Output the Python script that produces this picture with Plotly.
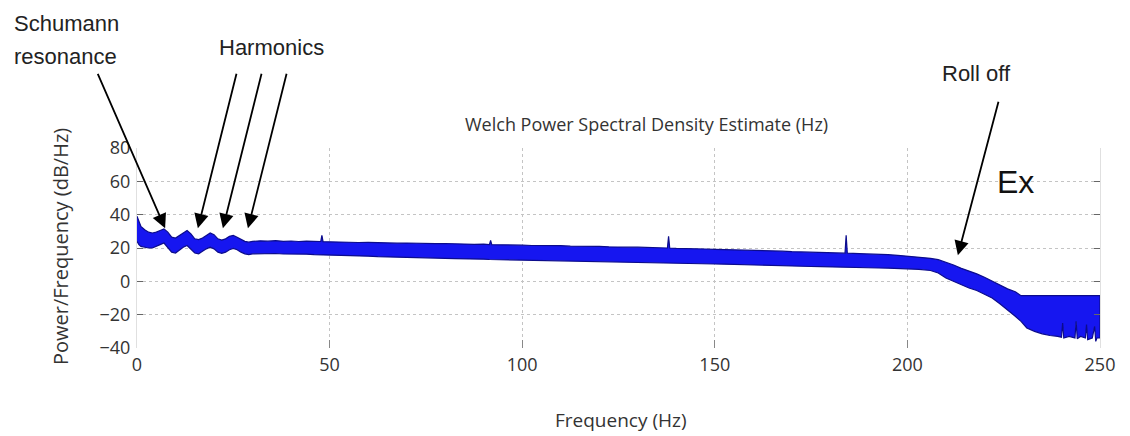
import plotly.graph_objects as go

# ---- data (Welch PSD, Ex channel) ----
freq_hz = [0, 0.5, 1, 2, 3, 4, 5, 6, 7, 8, 9, 10, 11, 12, 13, 14, 15, 16, 17, 18, 19, 20,
           21, 22, 23, 24, 25, 26, 27, 28, 29, 30,
           32, 34, 36, 38, 40, 42, 44, 46, 47.7, 48, 48.3, 50, 52.5, 55, 57.5, 60, 62.5, 65,
           67.5, 70, 72.5, 75, 77.5, 80, 82.5, 85, 87.5, 90, 91.5, 91.8, 92.1, 95, 97.5, 100,
           102.5, 105, 107.5, 110, 112.5, 115, 117.5, 120, 122.5, 125, 127.5, 130, 132.5, 135,
           137.7, 138, 138.3, 140, 142.5, 145, 147.5, 150, 152.5, 155, 157.5, 160, 162.5, 165,
           167.5, 170, 172.5, 175, 177.5, 180, 182.5, 183.8, 184.1, 184.4, 187.5, 190, 192.5,
           195, 197.5, 200,
           203, 206, 208, 210, 212, 214, 216, 218, 220, 222, 224, 226, 228,
           229.5, 231, 233, 235, 237, 239,
           240, 240.3, 240.6, 242, 243.5, 243.8, 244.1, 245, 246.2, 246.5, 246.8, 248, 248.6,
           248.9, 249.2, 250]

psd_upper_db = [39, 36, 33, 31, 29.5, 29, 29.5, 30.5, 31.5, 29.5, 26.5, 26, 27.5, 29.5, 30.5,
                28.5, 25.5, 25, 26, 27.5, 29, 28, 25.5, 24.8, 25.5, 27, 27.5, 26.5, 25, 24,
                23.5, 24,
                24.3, 24.1, 24.4, 24, 24.2, 23.9, 24.1, 23.8, 23.9, 27.6, 23.8, 23.7, 23.5, 23.6,
                23.3, 23.4, 23.1, 23.2, 22.9, 23.0, 22.8, 22.9, 22.6, 22.7, 22.4, 22.5, 22.2, 22.3,
                22.1, 24.6, 22.0, 21.9, 22.0, 21.7,
                21.5, 21.6, 21.3, 21.4, 21.1, 21.2, 20.9, 21.0, 20.7, 20.8, 20.5, 20.5, 20.2, 20.3,
                20.0, 27, 20.0, 19.8, 19.8, 19.5, 19.4, 19.2, 19.1, 18.9, 18.8, 18.5, 18.4, 18.2, 18.1,
                17.8, 17.7, 17.5, 17.4, 17.1, 17.0, 16.9, 27.6, 16.9, 16.6, 16.5, 16.2, 16.0, 15.6, 15.2,
                14.6, 13.8, 13, 11.5, 9.8, 7.8, 6.2, 4.5, 2.5, 0, -2.4, -4.5, -6.2,
                -8.6, -8.6, -8.6, -8.6, -8.6, -8.6,
                -8.6, -8.6, -8.6, -8.6, -8.6, -8.6, -8.6, -8.6, -8.6, -8.6, -8.6, -8.6, -8.6,
                -8.6, -8.6, -8.6]

psd_lower_db = [24, 22, 21, 20.5, 20, 20, 21, 22, 23, 20.5, 17.5, 17, 18.5, 20.5, 21.5, 19.5,
                17, 16.5, 18, 19.5, 20.5, 19.5, 17.5, 16.8, 17.5, 19, 19.8, 19, 17.5, 16.5, 16,
                16.5,
                16.8, 16.6, 16.7, 16.4, 16.5, 16.2, 16.3, 16.0, 16.0, 16.0, 15.9, 15.8, 15.5, 15.5,
                15.2, 15.1, 14.8, 14.7, 14.4, 14.4, 14.2, 14.1, 13.9, 13.8, 13.6, 13.5, 13.3, 13.3,
                13.1, 13.1, 13.1, 12.9, 12.8, 12.6,
                12.4, 12.4, 12.2, 12.1, 11.9, 11.9, 11.7, 11.7, 11.5, 11.5, 11.3, 11.3, 11.1, 11.1,
                10.9, 10.9, 10.9, 10.8, 10.7, 10.6, 10.5, 10.4, 10.3, 10.1, 10.0, 9.8, 9.7, 9.5, 9.4,
                9.2, 9.1, 8.9, 8.8, 8.7, 8.6, 8.5, 8.5, 8.5, 8.3, 8.2, 8.0, 7.9, 7.7, 7.6,
                7.2, 6.5, 5, 2, 0, -2, -4, -5.5, -7.5, -10, -13.5, -17, -21,
                -24, -28, -30, -31.5, -32.5, -33,
                -33.5, -25, -34, -33, -34, -24, -34.5, -33, -34, -26, -35, -34, -27,
                -36, -34, -34]

x_ticks = [0, 50, 100, 150, 200, 250]
y_ticks = [-40, -20, 0, 20, 40, 60, 80]

# callout arrows: (tip frequency, tip dB, tail dx px, tail dy px)
schumann_arrow = [(7.3, 31.8, -68, -156)]
harmonic_arrows = [(15.8, 31.8, 39, -156), (22.3, 31.8, 39, -156), (28.8, 31.8, 39, -156)]
rolloff_arrow = [(213.1, 15.6, 41, -155)]

# ---- layout geometry (pixels, page coordinates; page body has an 8px margin) ----
W, H = 1130, 436
OFF = 8
P_LEFT, P_TOP, P_RIGHT, P_BOTTOM = 137, 148, 1100, 348
L = P_LEFT - OFF
T = P_TOP - OFF
R = W - (P_RIGHT - OFF)
B = H - (P_BOTTOM - OFF)
PW, PH = P_RIGHT - P_LEFT, P_BOTTOM - P_TOP


def px(xp):
    return (xp - P_LEFT) / PW


def py(yp):
    return (P_BOTTOM - yp) / PH


fig = go.Figure()
fig.add_trace(go.Scatter(
    x=freq_hz + freq_hz[::-1],
    y=psd_upper_db + psd_lower_db[::-1],
    fill="toself", fillcolor="#1616f0",
    line=dict(color="#0c0c8c", width=1.2),
    mode="lines", hoverinfo="skip", showlegend=False,
))

tick_font = dict(family="Open Sans", size=18, color="#333333")
fig.update_layout(
    width=W, height=H,
    margin=dict(l=L, r=R, t=T, b=B),
    paper_bgcolor="white", plot_bgcolor="white",
    showlegend=False,
    xaxis=dict(range=[0, 250], tickvals=x_ticks, ticks="inside", ticklen=8,
               tickcolor="#888888", showgrid=True, gridcolor="#c4c4c4", griddash="dot",
               gridwidth=1, showline=False, zeroline=False, tickfont=tick_font,
               ticklabelstandoff=4),
    yaxis=dict(range=[-40, 80], tickvals=y_ticks, ticks="inside", ticklen=6,
               tickcolor="#666666", showgrid=True, gridcolor="#c4c4c4", griddash="dot",
               gridwidth=1, showline=True, linecolor="#e0e0e0", mirror="ticks",
               zeroline=False, tickfont=tick_font, ticklabelstandoff=2),
)

ann = []
for (xt, yt, dx, dy) in schumann_arrow + harmonic_arrows + rolloff_arrow:
    ann.append(dict(x=xt, y=yt, xref="x", yref="y", text="", showarrow=True,
                    ax=dx, ay=dy, arrowhead=2, arrowsize=1.6, arrowwidth=1.8,
                    arrowcolor="black"))

txt = lambda s, x, y, size, fam="Liberation Sans", xa="left", color="#222222": dict(
    text=s, x=px(x), y=py(y), xref="paper", yref="paper", showarrow=False,
    xanchor=xa, yanchor="middle", font=dict(family=fam, size=size, color=color))

ann += [
    txt("Schumann", 12, 23, 22),
    txt("resonance", 12, 57, 22),
    txt("Harmonics", 217, 47, 22),
    txt("Roll off", 940, 73, 22),
    txt("Ex", 995, 182, 32, xa="left", color="#111111"),
    txt("Welch Power Spectral Density Estimate (Hz)", 646, 124, 18, fam="Open Sans",
        xa="center", color="#333333"),
    txt("Frequency (Hz)", 621, 420, 19, fam="Open Sans", xa="center", color="#333333"),
]
ann.append(dict(text="Power/Frequency (dB/Hz)", x=px(60), y=py(247), xref="paper",
                yref="paper", showarrow=False, textangle=-90, xanchor="center",
                yanchor="middle", font=dict(family="Open Sans", size=20, color="#333333")))
fig.update_layout(annotations=ann)

fig.write_html("out.html")
